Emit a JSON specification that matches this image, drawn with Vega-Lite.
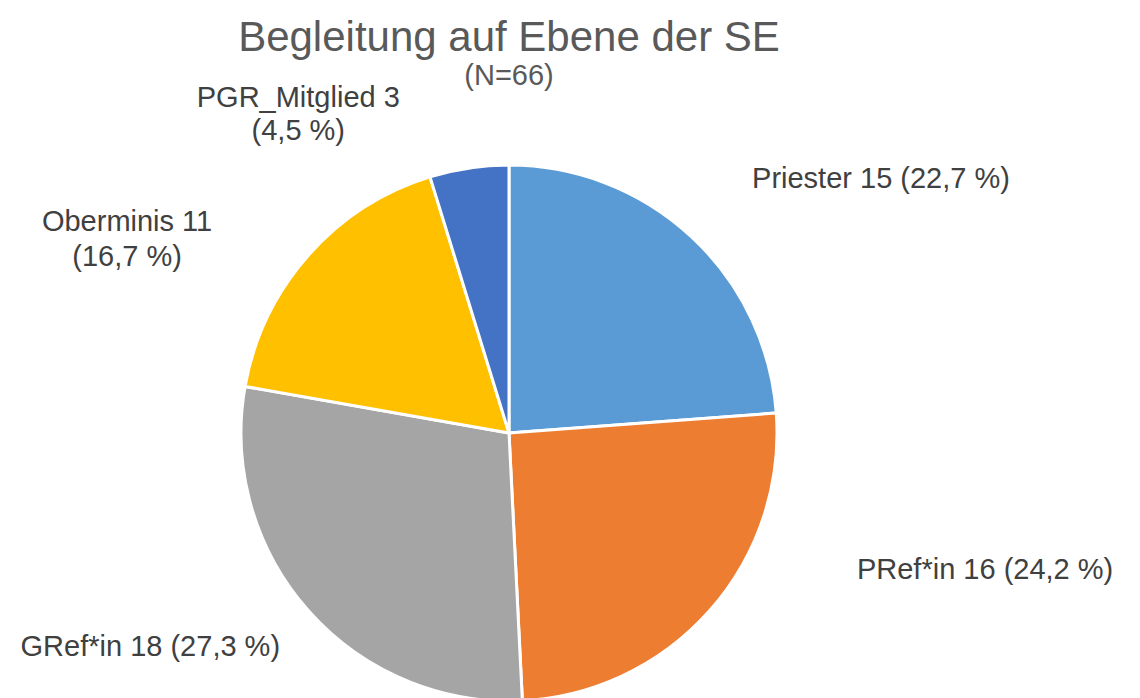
{
  "$schema": "https://vega.github.io/schema/vega-lite/v6.json",
  "autosize": "none",
  "width": 1018,
  "height": 666,
  "padding": {"top": 100, "left": 0, "right": 122, "bottom": 0},
  "background": "white",
  "config": {"view": {"stroke": null}},
  "title": {
    "text": "Begleitung auf Ebene der SE",
    "subtitle": "(N=66)",
    "anchor": "middle",
    "frame": "group",
    "font": "Liberation Sans",
    "fontSize": 42,
    "fontWeight": "normal",
    "color": "#595959",
    "subtitleFont": "Liberation Sans",
    "subtitleFontSize": 29,
    "subtitleColor": "#595959",
    "subtitlePadding": 2,
    "offset": -32
  },
  "data": {
    "values": [
      {"kategorie": "Priester", "anzahl": 15, "prozent": "22,7 %", "reihenfolge": 1},
      {"kategorie": "PRef*in", "anzahl": 16, "prozent": "24,2 %", "reihenfolge": 2},
      {"kategorie": "GRef*in", "anzahl": 18, "prozent": "27,3 %", "reihenfolge": 3},
      {"kategorie": "Oberminis", "anzahl": 11, "prozent": "16,7 %", "reihenfolge": 4},
      {"kategorie": "PGR_Mitglied", "anzahl": 3, "prozent": "4,5 %", "reihenfolge": 5}
    ]
  },
  "encoding": {
    "theta": {"field": "anzahl", "type": "quantitative", "stack": true},
    "order": {"field": "reihenfolge", "type": "ordinal"}
  },
  "layer": [
    {
      "mark": {"type": "arc", "outerRadius": 268, "stroke": "white", "strokeWidth": 3},
      "encoding": {
        "color": {
          "field": "kategorie",
          "type": "nominal",
          "scale": {
            "domain": ["Priester", "PRef*in", "GRef*in", "Oberminis", "PGR_Mitglied"],
            "range": ["#5B9BD5", "#ED7D31", "#A5A5A5", "#FFC000", "#4472C4"]
          },
          "legend": null
        }
      }
    },
    {
      "mark": {"type": "text", "radius": 300, "align": "left", "baseline": "alphabetic", "dx": 39, "dy": -25, "font": "Liberation Sans", "fontSize": 29, "color": "#404040"},
      "encoding": {
        "text": {"condition": {"test": "datum.kategorie === 'Priester'", "value": "Priester 15 (22,7 %)"}, "value": ""}
      }
    },
    {
      "mark": {"type": "text", "radius": 300, "align": "left", "baseline": "alphabetic", "dx": 123, "dy": -53, "font": "Liberation Sans", "fontSize": 29, "color": "#404040"},
      "encoding": {
        "text": {"condition": {"test": "datum.kategorie === 'PRef*in'", "value": "PRef*in 16 (24,2 %)"}, "value": ""}
      }
    },
    {
      "mark": {"type": "text", "radius": 300, "align": "right", "baseline": "alphabetic", "dx": -4, "dy": 24, "font": "Liberation Sans", "fontSize": 29, "color": "#404040"},
      "encoding": {
        "text": {"condition": {"test": "datum.kategorie === 'GRef*in'", "value": "GRef*in 18 (27,3 %)"}, "value": ""}
      }
    },
    {
      "mark": {"type": "text", "radius": 300, "align": "center", "baseline": "alphabetic", "dx": -157, "dy": -3, "lineHeight": 35, "font": "Liberation Sans", "fontSize": 29, "color": "#404040"},
      "encoding": {
        "text": {"condition": {"test": "datum.kategorie === 'Oberminis'", "value": ["Oberminis 11", "(16,7 %)"]}, "value": ""}
      }
    },
    {
      "mark": {"type": "text", "radius": 300, "align": "center", "baseline": "alphabetic", "dx": -166, "dy": -29, "lineHeight": 33, "font": "Liberation Sans", "fontSize": 29, "color": "#404040"},
      "encoding": {
        "text": {"condition": {"test": "datum.kategorie === 'PGR_Mitglied'", "value": ["PGR_Mitglied 3", "(4,5 %)"]}, "value": ""}
      }
    }
  ]
}
